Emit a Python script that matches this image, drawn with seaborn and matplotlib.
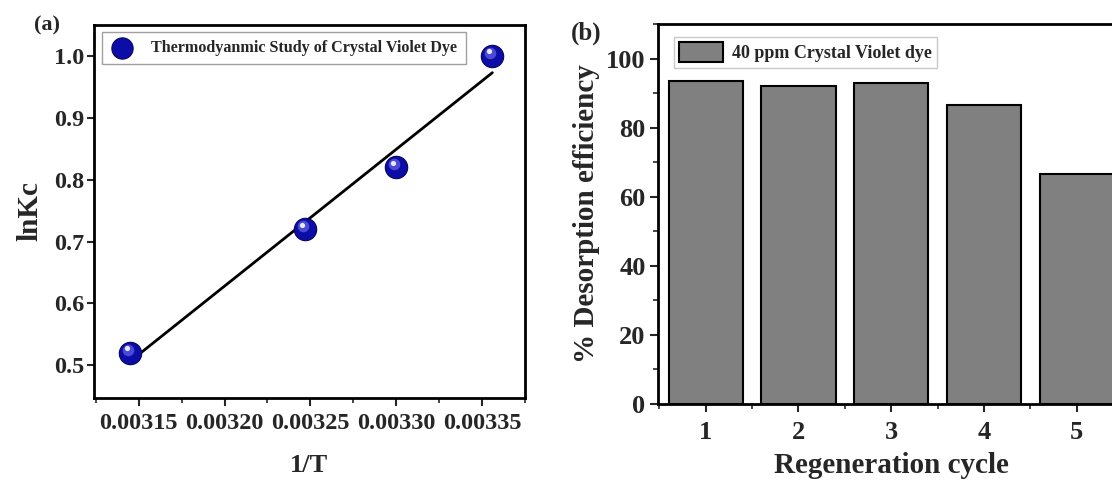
import numpy as np
import pandas as pd
import matplotlib
matplotlib.use("Agg")
import matplotlib.pyplot as plt
import matplotlib.transforms as mtransforms
from matplotlib.ticker import MultipleLocator, FormatStrFormatter
from matplotlib.patches import Patch
import seaborn as sns

# ---- data ----
inv_T = [0.003145, 0.003247, 0.003300, 0.003356]
ln_Kc = [0.52, 0.72, 0.82, 1.00]

cycles = [1, 2, 3, 4, 5]
desorption = [93.5, 92.0, 93.0, 86.5, 66.5]

label_a = "Thermodyanmic Study of Crystal Violet Dye"
label_b = "40 ppm Crystal Violet dye"

sns.set_theme(style="ticks")
plt.rcParams["font.family"] = ["Liberation Serif", "DejaVu Serif"]
plt.rcParams["font.weight"] = "bold"
plt.rcParams["axes.labelweight"] = "bold"

fig = plt.figure(figsize=(11.12, 4.83), dpi=100)
W, H = 1112, 483
ax1 = fig.add_axes([94 / W, 1 - 398 / H, (525 - 94) / W, (398 - 25) / H])
ax2 = fig.add_axes([658 / W, 1 - 404 / H, (1124 - 658) / W, (404 - 24) / H])

df_a = pd.DataFrame({"inv_T": inv_T, "ln_Kc": ln_Kc})
df_b = pd.DataFrame({"cycle": cycles, "eff": desorption})

# ---- panel (a) ----
sns.regplot(data=df_a, x="inv_T", y="ln_Kc", ax=ax1, scatter=False, ci=None,
            truncate=True, line_kws=dict(color="black", lw=2, zorder=2))
sns.scatterplot(data=df_a, x="inv_T", y="ln_Kc", ax=ax1, s=260, color="#0c0ca6",
                edgecolor="#06065e", linewidth=0.8, zorder=3, label=label_a)
hl1 = mtransforms.offset_copy(ax1.transData, fig=fig, x=-1.5, y=2.0, units="points")
hl2 = mtransforms.offset_copy(ax1.transData, fig=fig, x=-2.5, y=3.2, units="points")
ax1.scatter(df_a["inv_T"], df_a["ln_Kc"], s=70, color="#5a5ae0", linewidth=0,
            transform=hl1, zorder=4, alpha=0.8)
ax1.scatter(df_a["inv_T"], df_a["ln_Kc"], s=14, color="#e8e8ff", linewidth=0,
            transform=hl2, zorder=5)

ax1.set_xlim(0.003124, 0.003375)
ax1.set_ylim(0.447, 1.05)
ax1.xaxis.set_major_locator(MultipleLocator(0.00005))
ax1.xaxis.set_minor_locator(MultipleLocator(0.000025))
ax1.xaxis.set_major_formatter(FormatStrFormatter("%.5f"))
ax1.yaxis.set_major_locator(MultipleLocator(0.1))
ax1.yaxis.set_major_formatter(FormatStrFormatter("%.1f"))
ax1.set_xlabel("1/T", fontsize=19, fontweight="bold", labelpad=14)
ax1.set_ylabel("lnKc", fontsize=21, fontweight="bold", labelpad=8)
ax1.tick_params(axis="x", which="major", labelsize=17.5, length=6, width=1.5, pad=5)
ax1.tick_params(axis="x", which="minor", length=3.5, width=1.2)
ax1.tick_params(axis="y", which="major", labelsize=17.5, length=5, width=1.5, pad=2)
for lab in ax1.get_xticklabels() + ax1.get_yticklabels():
    lab.set_fontweight("bold")
leg1 = ax1.legend(loc="upper left", bbox_to_anchor=(0.01, 0.99),
                  frameon=True, fancybox=False, edgecolor="#888888",
                  handletextpad=1.0, borderpad=0.5, borderaxespad=0.2,
                  handlelength=1.6, markerscale=0.95,
                  prop=dict(weight="bold", size=11.6))
leg1.get_frame().set_linewidth(1.0)

# ---- panel (b) ----
sns.barplot(data=df_b, x="cycle", y="eff", ax=ax2, native_scale=True, width=0.8,
            color="#808080", saturation=1, edgecolor="black", linewidth=1.5,
            errorbar=None)
ax2.set_xlim(0.486, 5.51)
ax2.set_ylim(0, 110)
ax2.xaxis.set_major_locator(MultipleLocator(1))
ax2.xaxis.set_minor_locator(MultipleLocator(0.5))
ax2.yaxis.set_major_locator(MultipleLocator(20))
ax2.yaxis.set_minor_locator(MultipleLocator(10))
ax2.set_xlabel("Regeneration cycle", fontsize=21, fontweight="bold", labelpad=6)
ax2.set_ylabel("% Desorption efficiency", fontsize=21, fontweight="bold", labelpad=4)
ax2.tick_params(axis="x", which="major", labelsize=19, length=6, width=1.5, pad=6)
ax2.tick_params(axis="y", which="major", labelsize=19, length=6, width=1.5, pad=3)
ax2.tick_params(axis="both", which="minor", length=3.5, width=1.2)
for lab in ax2.get_xticklabels() + ax2.get_yticklabels():
    lab.set_fontweight("bold")
handle_b = Patch(facecolor="#808080", edgecolor="black", linewidth=1.5, label=label_b)
leg2 = ax2.legend(handles=[handle_b], loc="upper left", bbox_to_anchor=(0.015, 0.99),
                  frameon=True, fancybox=False, edgecolor="#bbbbbb",
                  handlelength=2.4, handleheight=1.3, handletextpad=0.5,
                  borderpad=0.3, prop=dict(weight="bold", size=13))
leg2.get_frame().set_linewidth(1.0)

for ax in (ax1, ax2):
    for sp in ax.spines.values():
        sp.set_visible(True)
        sp.set_linewidth(2.0)
        sp.set_color("black")

fig.text(47 / W, 1 - 25 / H, "(a)", fontsize=16, fontweight="bold", ha="center", va="center")
fig.text(586 / W, 1 - 33 / H, "(b)", fontsize=18, fontweight="bold", ha="center", va="center")

fig.savefig("out.png", dpi=100)
